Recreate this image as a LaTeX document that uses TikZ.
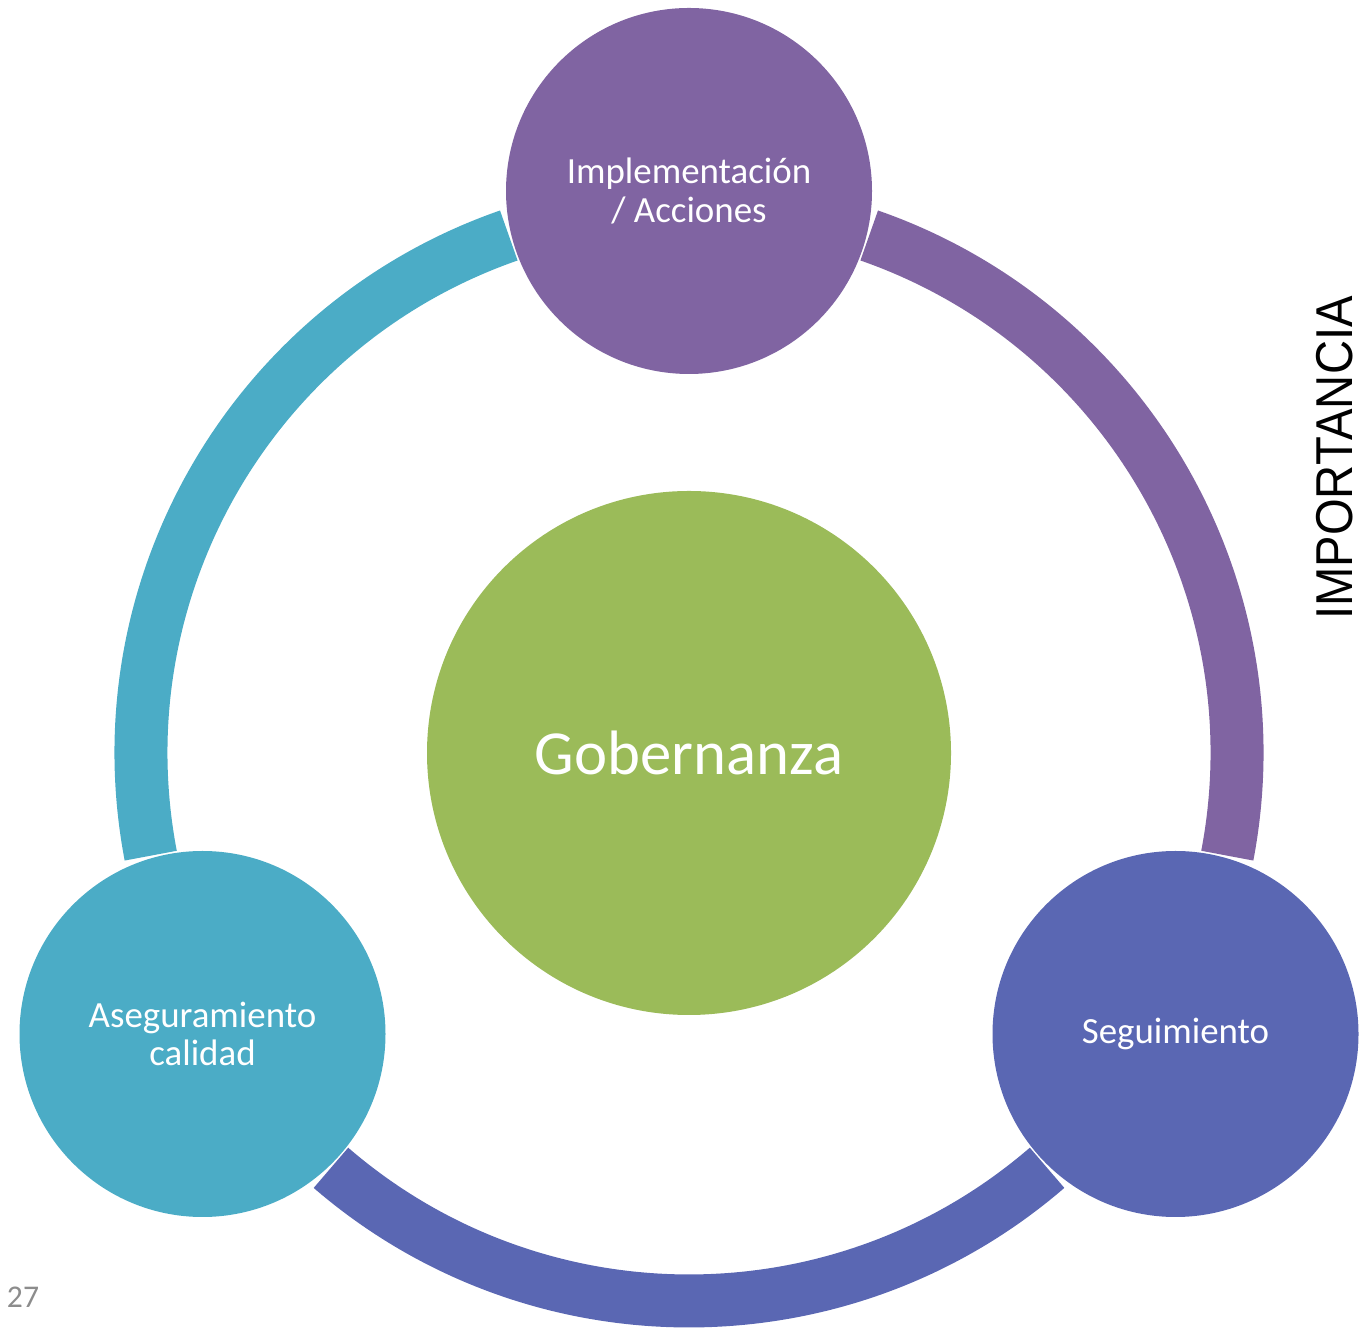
\documentclass[tikz,border=0pt]{standalone}
\usepackage{fontspec}
\setmainfont{Carlito}
\newfontfamily\impfont[FakeStretch=0.91]{Liberation Sans}
\definecolor{cpurple}{HTML}{8064A2}
\definecolor{cblue}{HTML}{5A67B3}
\definecolor{cteal}{HTML}{4BACC6}
\definecolor{cgreen}{HTML}{9BBB59}
\definecolor{cgray}{HTML}{8C8C8C}
\begin{document}
\begin{tikzpicture}[
  sat/.style={circle, minimum size=7.32cm, inner sep=0pt, text=white, align=center,
    font=\fontsize{21}{22.1}\selectfont},
  ringarc/.style={line width=1.06cm},
]
\useasboundingbox (0,0) rectangle (27.2,26.68);
\coordinate (C) at (13.78,11.62);
\draw[ringarc, cpurple] ([shift={(70.8:10.96)}]C) arc[start angle=70.8, end angle=-10.8, radius=10.96];
\draw[ringarc, cblue] ([shift={(-49.2:10.96)}]C) arc[start angle=-49.2, end angle=-130.8, radius=10.96];
\draw[ringarc, cteal] ([shift={(190.8:10.96)}]C) arc[start angle=190.8, end angle=109.2, radius=10.96];
\node[circle, fill=cgreen, minimum size=10.48cm, inner sep=0pt, text=white,
  font=\fontsize{35.7}{40}\selectfont] (gob) at (C) {Gobernanza};
\node[sat, fill=cpurple] (impl) at (13.78,22.86) {Implementación\\/ Acciones};
\node[sat, fill=cblue] (seg) at (23.51,6.0) {Seguimiento};
\node[sat, fill=cteal] (ase) at (4.05,6.0) {Aseguramiento\\calidad};
\node[rotate=90, inner sep=0pt, font=\impfont\fontsize{29.5}{32}\selectfont] (imp) at (26.7,17.52) {IMPORTANCIA};
\node[text=cgray, font=\fontsize{18}{20}\selectfont] (num) at (0.46,0.74) {27};
\end{tikzpicture}
\end{document}
